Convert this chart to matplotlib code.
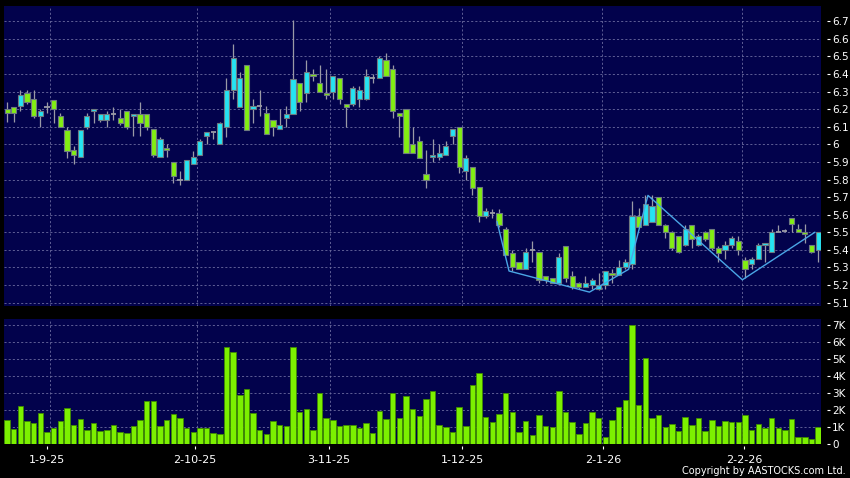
import matplotlib
matplotlib.use("Agg")
import matplotlib.pyplot as plt
import numpy as np

# ---------------- data ----------------
day_index = list(range(-6, 117))  # trading-day index, 0 = 1-9-25

opens = [6.20, 6.21, 6.22, 6.29, 6.26, 6.16,
         6.21, 6.25, 6.16, 6.08, 5.97, 5.93, 6.10, 6.19, 6.14, 6.14,
         6.17, 6.15, 6.19, 6.16, 6.17, 6.17, 6.09, 5.93, 5.98, 5.90,
         5.80, 5.80, 5.89, 5.94, 6.05, 6.07, 6.00, 6.10, 6.31, 6.21,
         6.45, 6.20, 6.22, 6.18, 6.14, 6.09, 6.15, 6.17, 6.35, 6.29,
         6.40, 6.35, 6.29, 6.30, 6.38, 6.23, 6.23, 6.26, 6.26, 6.38,
         6.38, 6.48, 6.43, 6.18, 6.20, 6.00, 6.02, 5.83, 5.93, 5.93,
         5.94, 6.05, 6.10, 5.85, 5.87, 5.76, 5.59, 5.61, 5.61, 5.52,
         5.38, 5.33, 5.29, 5.40, 5.39, 5.25, 5.24, 5.21, 5.42, 5.25,
         5.21, 5.19, 5.20, 5.18, 5.20, 5.27, 5.26, 5.30, 5.32, 5.59,
         5.54, 5.56, 5.70, 5.54, 5.50, 5.48, 5.43, 5.54, 5.43, 5.50,
         5.52, 5.41, 5.40, 5.43, 5.45, 5.34, 5.32, 5.35, 5.43, 5.39,
         5.50, 5.51, 5.58, 5.52, 5.50, 5.43, 5.40]
highs = [6.24, 6.21, 6.31, 6.31, 6.31, 6.20,
         6.24, 6.25, 6.18, 6.10, 5.99, 6.08, 6.18, 6.20, 6.17, 6.19,
         6.21, 6.20, 6.19, 6.17, 6.24, 6.17, 6.09, 6.04, 6.00, 5.90,
         5.85, 5.91, 5.96, 6.03, 6.07, 6.07, 6.13, 6.38, 6.57, 6.41,
         6.45, 6.26, 6.31, 6.22, 6.14, 6.20, 6.22, 6.71, 6.35, 6.48,
         6.43, 6.45, 6.43, 6.39, 6.38, 6.23, 6.33, 6.33, 6.43, 6.40,
         6.50, 6.52, 6.45, 6.18, 6.20, 6.10, 6.05, 5.97, 6.03, 6.00,
         6.02, 6.09, 6.10, 5.94, 5.87, 5.76, 5.64, 5.63, 5.63, 5.53,
         5.40, 5.33, 5.41, 5.45, 5.39, 5.25, 5.24, 5.38, 5.42, 5.28,
         5.22, 5.25, 5.24, 5.27, 5.28, 5.29, 5.34, 5.35, 5.68, 5.64,
         5.71, 5.71, 5.70, 5.55, 5.51, 5.48, 5.54, 5.54, 5.49, 5.51,
         5.52, 5.42, 5.45, 5.48, 5.48, 5.36, 5.36, 5.44, 5.44, 5.52,
         5.54, 5.52, 5.58, 5.55, 5.55, 5.43, 5.50]
lows = [6.13, 6.13, 6.19, 6.23, 6.15, 6.10,
        6.18, 6.12, 6.10, 5.92, 5.89, 5.93, 6.09, 6.12, 6.13, 6.10,
        6.14, 6.11, 6.09, 6.05, 6.05, 6.08, 5.93, 5.93, 5.93, 5.78,
        5.77, 5.80, 5.89, 5.94, 6.00, 6.03, 6.00, 6.04, 6.26, 6.21,
        6.08, 6.12, 6.16, 6.06, 6.05, 6.09, 6.10, 6.17, 6.19, 6.24,
        6.36, 6.30, 6.26, 6.26, 6.23, 6.10, 6.22, 6.21, 6.25, 6.35,
        6.38, 6.39, 6.15, 6.04, 5.95, 5.95, 5.92, 5.75, 5.90, 5.91,
        5.94, 6.00, 5.84, 5.80, 5.71, 5.56, 5.58, 5.58, 5.53, 5.37,
        5.28, 5.29, 5.29, 5.33, 5.21, 5.21, 5.21, 5.21, 5.22, 5.18,
        5.18, 5.19, 5.18, 5.17, 5.18, 5.21, 5.26, 5.29, 5.29, 5.53,
        5.54, 5.56, 5.54, 5.47, 5.40, 5.38, 5.42, 5.41, 5.42, 5.45,
        5.40, 5.33, 5.35, 5.41, 5.37, 5.24, 5.29, 5.35, 5.33, 5.39,
        5.50, 5.50, 5.50, 5.50, 5.44, 5.38, 5.33]
closes = [6.18, 6.18, 6.28, 6.24, 6.16, 6.19,
          6.21, 6.20, 6.10, 5.96, 5.94, 6.08, 6.16, 6.20, 6.17, 6.17,
          6.17, 6.12, 6.10, 6.17, 6.12, 6.10, 5.94, 6.03, 5.97, 5.82,
          5.80, 5.91, 5.93, 6.02, 6.07, 6.07, 6.12, 6.31, 6.49, 6.38,
          6.08, 6.22, 6.22, 6.06, 6.10, 6.11, 6.17, 6.37, 6.24, 6.41,
          6.39, 6.30, 6.28, 6.39, 6.26, 6.21, 6.32, 6.31, 6.39, 6.38,
          6.49, 6.39, 6.19, 6.16, 5.95, 5.95, 5.92, 5.80, 5.94, 5.95,
          5.99, 6.09, 5.87, 5.92, 5.75, 5.59, 5.62, 5.61, 5.54, 5.37,
          5.30, 5.29, 5.39, 5.40, 5.23, 5.23, 5.21, 5.36, 5.24, 5.19,
          5.19, 5.21, 5.23, 5.20, 5.28, 5.26, 5.30, 5.33, 5.59, 5.53,
          5.66, 5.65, 5.54, 5.50, 5.41, 5.39, 5.52, 5.46, 5.48, 5.46,
          5.41, 5.38, 5.43, 5.47, 5.40, 5.29, 5.35, 5.43, 5.44, 5.50,
          5.50, 5.51, 5.55, 5.50, 5.49, 5.39, 5.50]
volume_k = [1.36, 0.83, 2.24, 1.32, 1.21, 1.78,
            0.67, 0.91, 1.30, 2.07, 1.11, 1.46, 0.82, 1.24, 0.71, 0.79,
            1.07, 0.70, 0.61, 1.04, 1.38, 2.52, 2.49, 1.02, 1.37, 1.74,
            1.52, 0.89, 0.67, 0.91, 0.91, 0.61, 0.57, 5.70, 5.40, 2.86,
            3.24, 1.83, 0.80, 0.55, 1.32, 1.10, 1.05, 5.73, 1.87, 2.05,
            0.79, 3.00, 1.52, 1.40, 1.03, 1.08, 1.12, 0.94, 1.24, 0.62,
            1.91, 1.46, 3.00, 1.52, 2.83, 2.04, 1.63, 2.64, 3.10, 1.12,
            0.97, 0.70, 2.17, 1.03, 3.43, 4.18, 1.54, 1.27, 1.75, 2.96,
            1.85, 0.65, 1.32, 0.52, 1.69, 1.02, 0.97, 3.13, 1.87, 1.26,
            0.59, 1.21, 1.87, 1.48, 0.38, 1.41, 2.14, 2.55, 6.99, 2.26,
            5.06, 1.49, 1.70, 0.96, 1.14, 0.74, 1.59, 1.11, 1.53, 0.72,
            1.37, 1.04, 1.34, 1.25, 1.29, 1.71, 0.79, 1.13, 0.94, 1.52,
            0.94, 0.79, 1.46, 0.36, 0.37, 0.27, 0.99]

# zig-zag overlay (index, price)
zz_index = [67.7, 69.5, 81.6, 87.5, 90.4, 104.6, 115.5]
zz_price = [5.56, 5.28, 5.16, 5.29, 5.71, 5.23, 5.50]

# date axis
date_labels = ["1-9-25", "2-10-25", "3-11-25", "1-12-25", "2-1-26", "2-2-26"]
date_label_pos = [0, 22.2, 42.4, 62.5, 83.7, 104.9]
date_grid_pos = [0.5, 22.5, 42.5, 62.5, 83.5, 104.5]

price_ticks = [5.1, 5.2, 5.3, 5.4, 5.5, 5.6, 5.7, 5.8, 5.9, 6.0,
               6.1, 6.2, 6.3, 6.4, 6.5, 6.6, 6.7]
vol_ticks = [0, 1, 2, 3, 4, 5, 6, 7]
vol_tick_labels = ["0", "1K", "2K", "3K", "4K", "5K", "6K", "7K"]

assert len(opens) == len(highs) == len(lows) == len(closes) == len(volume_k) == len(day_index)

# ---------------- style ----------------
NAVY = "#02024c"
UP = "#25e3f2"
DOWN = "#82ee12"
EDGE = "#6e7a80"
WICK = "#9a9aa6"
GRID = "#6c6ca0"
VOLC = "#7cf000"
VOLE = "#3f8c00"

W, H = 850, 478
fig = plt.figure(figsize=(8.5, 4.78), dpi=100, facecolor="black")
ax = fig.add_axes([4 / W, 1 - 306 / H, 817 / W, 300 / H], facecolor=NAVY)
axv = fig.add_axes([4 / W, 1 - 443.5 / H, 817 / W, 124.5 / H], facecolor=NAVY)

x = np.array(day_index, dtype=float)
o = np.array(opens)
h = np.array(highs)
l = np.array(lows)
c = np.array(closes)
v = np.array(volume_k)

# wicks
ax.vlines(x, l, h, color=WICK, linewidth=0.9, zorder=2)

up = c > o
dn = c < o
fl = c == o
bw = 0.78
ax.bar(x[up], (c - o)[up], bottom=o[up], width=bw, color=UP,
       edgecolor=EDGE, linewidth=0.8, zorder=3)
ax.bar(x[dn], (o - c)[dn], bottom=c[dn], width=bw, color=DOWN,
       edgecolor=EDGE, linewidth=0.8, zorder=3)
ax.hlines(c[fl], x[fl] - bw / 2, x[fl] + bw / 2, color=WICK,
          linewidth=1.3, zorder=3)

# zig-zag
ax.plot(zz_index, zz_price, color="#4aa6e6", linewidth=1.0, zorder=4)

# volume
axv.bar(x, v, width=0.82, color=VOLC, edgecolor=VOLE, linewidth=0.6, zorder=3)

xlim = (-6.47, 116.43)
for a in (ax, axv):
    a.set_xlim(*xlim)
    for s in a.spines.values():
        s.set_visible(False)
    a.yaxis.tick_right()
    a.spines["right"].set_position(("outward", 4))
    a.tick_params(axis="y", colors="white", labelsize=7.5, length=2.5,
                  width=0.8, pad=1.5, left=False, labelleft=False)
    a.set_xticks(date_grid_pos, minor=True)
    a.grid(which="minor", axis="x", color=GRID, linestyle=(0, (2.5, 2.5)),
           linewidth=0.6, zorder=0)
    a.grid(which="major", axis="y", color=GRID, linestyle=(0, (2.5, 2.5)),
           linewidth=0.6, zorder=0)
    a.set_axisbelow(True)

ax.set_ylim(5.081, 6.787)
ax.set_yticks(price_ticks)
ax.set_yticklabels(["%g" % t for t in price_ticks])
ax.set_xticks([])
ax.tick_params(axis="x", which="both", bottom=False, labelbottom=False)

axv.set_ylim(0, 7.355)
axv.set_yticks(vol_ticks)
axv.set_yticklabels(vol_tick_labels)
axv.set_xticks(date_label_pos)
axv.set_xticklabels(date_labels)
axv.spines["bottom"].set_position(("outward", 2))
axv.tick_params(axis="x", which="major", colors="white", labelsize=8,
                length=2.5, width=0.8, pad=4)
axv.tick_params(axis="x", which="minor", length=0)

fig.text(846 / W, 1 - 471.5 / H, "Copyright by AASTOCKS.com Ltd.",
         color="white", fontsize=7, ha="right", va="center")

fig.savefig("out.png", dpi=100, facecolor="black")
